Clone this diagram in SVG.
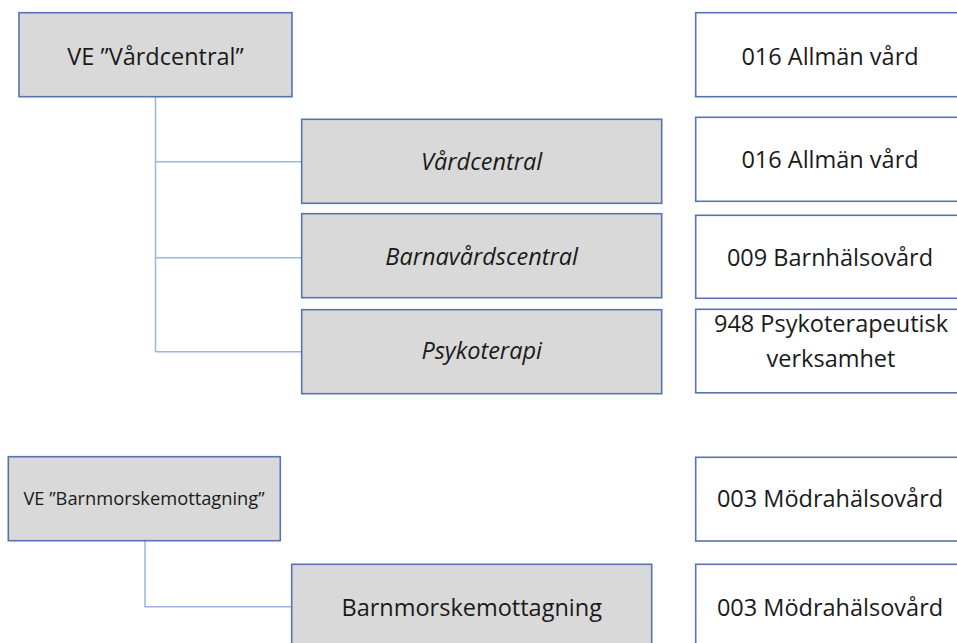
<svg xmlns="http://www.w3.org/2000/svg" width="957" height="643" viewBox="0 0 957 643">
<style>
.box{stroke:#5574b0;stroke-width:1.6}
.grey{fill:#d9d9d9}
.white{fill:#ffffff}
.conn{fill:none;stroke:#9db4e0;stroke-width:1.5}
text{font-family:"Open Sans","Noto Sans","Liberation Sans",sans-serif;font-size:23.5px;fill:#1a1a1a;text-anchor:middle}
.it{font-style:italic}
.small{font-size:18.3px}
</style>
<rect width="957" height="643" fill="#ffffff"/>
<g id="connectors">
<path class="conn" d="M155.5 96.7 V351.7 M155.5 161.7 H301.7 M155.5 257.7 H301.7 M155.5 351.7 H301.7"/>
<path class="conn" d="M145 540.7 V606.7 H291.7"/>
</g>
<g id="ve-vardcentral">
<rect class="box grey" x="19" y="12.7" width="273" height="84"/>
<text x="155.5" y="65">VE ”Vårdcentral”</text>
</g>
<g id="vardcentral">
<rect class="box grey" x="301.7" y="119.3" width="360" height="84"/>
<text class="it" x="481.7" y="170">Vårdcentral</text>
</g>
<g id="barnavardscentral">
<rect class="box grey" x="301.7" y="213.7" width="360" height="84"/>
<text class="it" x="481.7" y="265">Barnavårdscentral</text>
</g>
<g id="psykoterapi">
<rect class="box grey" x="301.7" y="309.7" width="360" height="84"/>
<text class="it" x="481.7" y="359">Psykoterapi</text>
</g>
<g id="code-016-a">
<rect class="box white" x="695.7" y="12.7" width="270" height="84"/>
<text x="830" y="65">016 Allmän vård</text>
</g>
<g id="code-016-b">
<rect class="box white" x="695.7" y="117.3" width="270" height="84"/>
<text x="830" y="168.3">016 Allmän vård</text>
</g>
<g id="code-009">
<rect class="box white" x="695.7" y="215.3" width="270" height="83"/>
<text x="830" y="266">009 Barnhälsovård</text>
</g>
<g id="code-948">
<rect class="box white" x="695.7" y="309.3" width="270" height="83.5"/>
<text x="831" y="331.7">948 Psykoterapeutisk</text>
<text x="831" y="366.7">verksamhet</text>
</g>
<g id="ve-barnmorskemottagning">
<rect class="box grey" x="8.3" y="456.7" width="272" height="84"/>
<text class="small" x="144" y="505">VE ”Barnmorskemottagning”</text>
</g>
<g id="barnmorskemottagning">
<rect class="box grey" x="291.7" y="564.3" width="360" height="84"/>
<text x="471.7" y="616">Barnmorskemottagning</text>
</g>
<g id="code-003-a">
<rect class="box white" x="695.7" y="457.3" width="270" height="83.7"/>
<text x="830" y="507">003 Mödrahälsovård</text>
</g>
<g id="code-003-b">
<rect class="box white" x="695.7" y="564.3" width="270" height="84"/>
<text x="830" y="616">003 Mödrahälsovård</text>
</g>
</svg>
